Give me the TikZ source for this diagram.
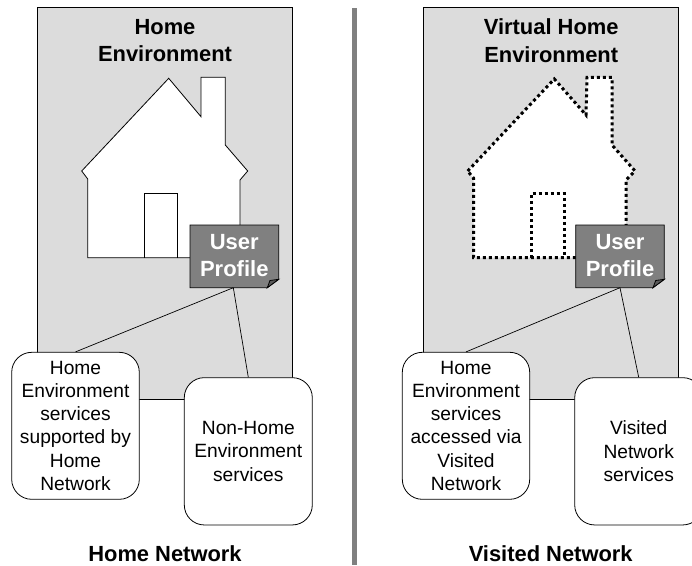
\documentclass[tikz,border=0pt]{standalone}
\usepackage{fontspec}
\setmainfont{Liberation Sans}
\definecolor{panel}{HTML}{DCDCDC}
\definecolor{profile}{HTML}{808080}
\tikzset{
  x=1pt,y=-1pt,
  panelbox/.style={fill=panel,draw=black,line width=0.8pt},
  house/.style={fill=white,draw=black,line width=0.8pt,line join=miter},
  househome/.style={house},
  housevisit/.style={fill=white,draw=black,line width=3pt,dash pattern=on 3pt off 3pt},
  doorhome/.style={draw=black,line width=0.8pt},
  doorvisit/.style={draw=black,line width=3pt,dash pattern=on 3pt off 3pt},
  svc/.style={draw=black,fill=white,line width=0.8pt,rounded corners=20pt,align=center,inner sep=0pt,
     font=\fontsize{19.2}{23.3}\selectfont},
  ttl/.style={align=center,inner sep=0pt,font=\fontsize{21.9}{27.6}\selectfont\bfseries},
  plabel/.style={align=center,inner sep=0pt,text=white,font=\fontsize{22}{26.6}\selectfont\bfseries},
  pnote/.style={draw=black,fill=profile,line width=0.8pt},
  pfold/.style={draw=black,fill=profile!70!black,line width=0.8pt},
  link/.style={draw=black,line width=0.7pt},
}
\begin{document}
\begin{tikzpicture}
\useasboundingbox (0,0) rectangle (692,565);
\clip (0,0) rectangle (692,565);
% divider
\fill[profile] (352.2,7.5) rectangle (356.5,565);
% left panel
\draw[panelbox] (37.3,7.5) rectangle (292.5,399.3);
\draw[househome] (81.7,171) -- (168.7,78.3) -- (201,116.7) -- (201,77.3) -- (225.3,77.3) -- (225.3,145) -- (247.7,171) -- (240,180) -- (240,257.7) -- (87.7,257.7) -- (87.7,179) -- cycle;
\draw[doorhome] (144.7,257.7) -- (144.7,193.3) -- (177.7,193.3) -- (177.7,257.7);
\node[ttl] (t1) at (165,40.5) {Home\\Environment};
% right panel
\draw[panelbox] (423.5,7.5) rectangle (678.5,399.3);
\draw[housevisit] (467.7,171) -- (554.3,79) -- (586,115) -- (587,77.3) -- (612,77.3) -- (612,145) -- (635,171) -- (626,180) -- (626,257.7) -- (473.7,257.7) -- (473.7,178.3) -- cycle;
\draw[doorvisit] (531,257.7) -- (531,193.3) -- (564,193.3) -- (564,257.7);
\node[ttl] (t2) at (551.2,40.5) {Virtual Home\\Environment};
% user profiles
\draw[pnote] (190,225) -- (278.7,225) -- (278.7,279.3) -- (267.3,287.7) -- (190,287.7) -- cycle;
\draw[pfold] (267.3,287.7) -- (278.7,279.3) -- (270,280.5) -- cycle;
\coordinate (p1) at (233.3,287.7);
\node[plabel] (u1) at (234.3,255.5) {User\\Profile};
\draw[pnote] (575.7,225) -- (664.3,225) -- (664.3,279.3) -- (653,287.7) -- (575.7,287.7) -- cycle;
\draw[pfold] (653,287.7) -- (664.3,279.3) -- (655.7,280.5) -- cycle;
\coordinate (p2) at (620,287.7);
\node[plabel] (u2) at (620,255.5) {User\\Profile};
% services
\node[svc,minimum width=127.6pt,minimum height=147pt] (a1) at (75.5,425.8) {Home\\Environment\\services\\supported by\\Home\\Network};
\node[svc,minimum width=128pt,minimum height=147.3pt] (b1) at (248.3,451.3) {Non-Home\\Environment\\services};
\node[svc,minimum width=127.4pt,minimum height=147pt] (a2) at (466,425.8) {Home\\Environment\\services\\accessed via\\Visited\\Network};
\node[svc,minimum width=128pt,minimum height=147.3pt] (b2) at (638.7,451.3) {Visited\\Network\\services};
\draw[link] (p1) -- (a1.north);
\draw[link] (p1) -- (b1.north);
\draw[link] (p2) -- (a2.north);
\draw[link] (p2) -- (b2.north);
\node[ttl] (n1) at (165,553.5) {Home Network};
\node[ttl] (n2) at (550.7,553.5) {Visited Network};
\end{tikzpicture}
\end{document}
